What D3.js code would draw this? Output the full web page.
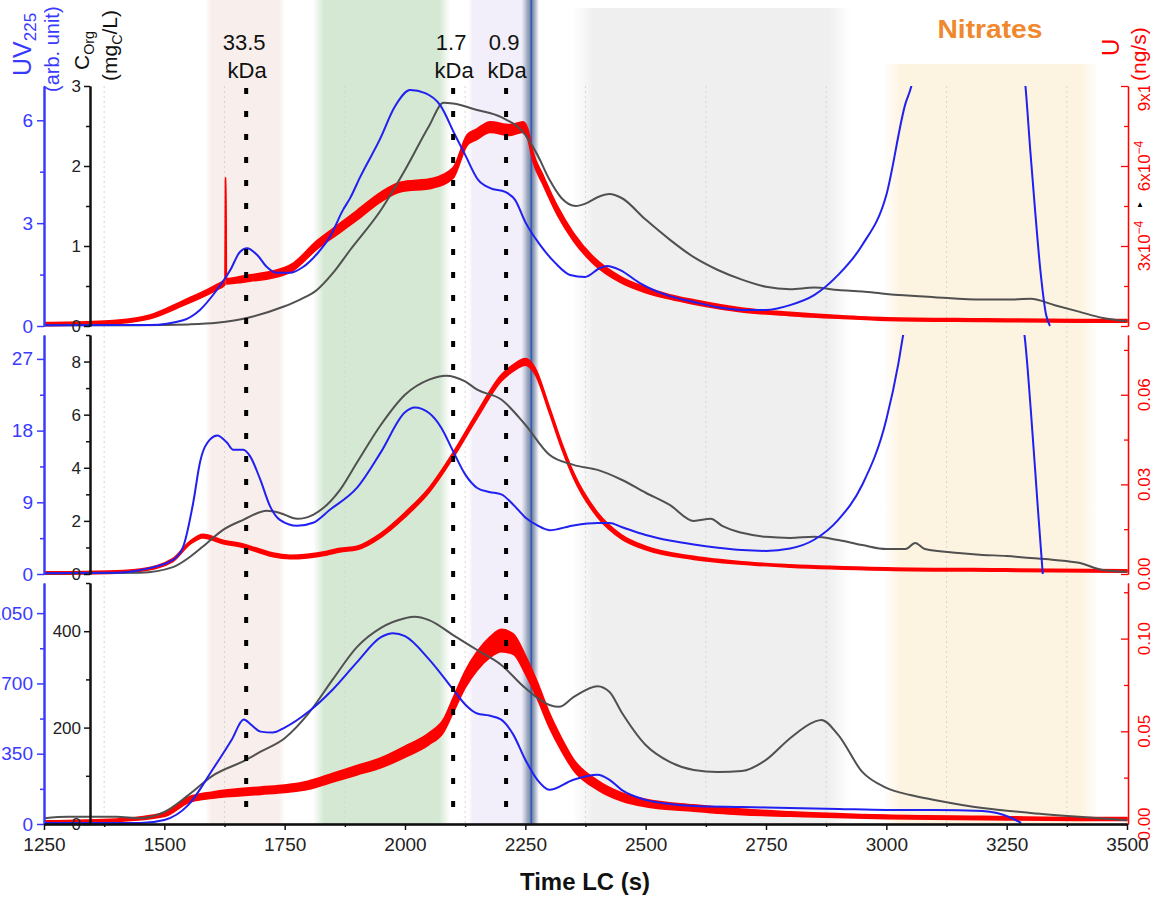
<!DOCTYPE html>
<html>
<head>
<meta charset="utf-8">
<script src="https://cdn.jsdelivr.net/npm/d3@7"></script>
<style>
  body { margin: 0; background: #fff; }
  svg { display: block; font-family: "Liberation Sans", Arial, sans-serif; }
</style>
</head>
<body>
<svg width="1153" height="897"></svg>
<script>
// time axis (s)
const timeTicks = [1250, 1500, 1750, 2000, 2250, 2500, 2750, 3000, 3250, 3500];

// shaded fractions [start, end] (s)
const bandRanges = [[1585, 1751], [1809, 2094], [2131, 2250], [2347, 2925], [2994, 3440]];
const kdaTimes = [1670, 2100, 2210];
const kdaLabels = ['33.5', '1.7', '0.9'];
const markerTime = 2260;

// ---- top panel ----  [t, value]  /  U: [t, value(x1e-4), noise]
const topUV = [[1250,0.02],[1470,0.03],[1539,0.17],[1574,0.47],[1609,1.05],[1637,1.63],[1657,2.16],[1672,2.27],[1693,2.07],[1713,1.72],[1734,1.55],[1761,1.55],[1788,1.72],[1817,2.1],[1844,2.6],[1871,3.38],[1886,3.73],[1907,4.35],[1948,5.45],[1979,6.4],[2011,6.88],[2042,6.79],[2073,6.44],[2104,5.57],[2125,4.99],[2152,4.26],[2177,4.02],[2208,3.91],[2229,3.67],[2250,3.03],[2281,2.36],[2312,1.84],[2343,1.49],[2374,1.43],[2405,1.69],[2420,1.75],[2447,1.63],[2488,1.25],[2550,0.87],[2600,0.7],[2650,0.55],[2700,0.47],[2750,0.47],[2800,0.61],[2850,0.9],[2900,1.49],[2950,2.36],[3000,3.82],[3040,6.5],[3052,7.0],[3070,8.5],[3275,8.5],[3289,7.0],[3299,5.13],[3309,3.38],[3320,1.63],[3332,0.32],[3340,0]];
const topCorg = [[1250,0.01],[1450,0.01],[1550,0.02],[1609,0.04],[1678,0.11],[1747,0.24],[1782,0.33],[1817,0.45],[1850,0.66],[1886,0.95],[1950,1.45],[2000,1.95],[2050,2.5],[2080,2.79],[2100,2.78],[2150,2.7],[2200,2.61],[2250,2.39],[2275,2.14],[2300,1.83],[2325,1.6],[2355,1.5],[2375,1.53],[2400,1.61],[2425,1.65],[2450,1.6],[2500,1.33],[2550,1.08],[2600,0.86],[2650,0.7],[2700,0.58],[2750,0.49],[2800,0.46],[2850,0.48],[2900,0.45],[2950,0.43],[3000,0.4],[3100,0.36],[3200,0.33],[3250,0.33],[3300,0.34],[3350,0.26],[3400,0.18],[3450,0.1],[3500,0.06]];
const topU = [[1250,0.07,0.06],[1350,0.11,0.06],[1400,0.15,0.06],[1470,0.34,0.07],[1539,0.86,0.09],[1609,1.46,0.1],[1626,1.65,0.1],[1627,5.5,0.02],[1628,5.55,0.02],[1629,1.68,0.1],[1650,1.72,0.11],[1678,1.8,0.12],[1720,1.91,0.13],[1767,2.21,0.14],[1817,3.04,0.16],[1859,3.6,0.17],[1900,4.15,0.18],[1950,4.84,0.18],[1990,5.21,0.18],[2058,5.36,0.18],[2100,5.74,0.2],[2129,6.97,0.2],[2150,7.2,0.2],[2177,7.46,0.2],[2218,7.35,0.2],[2245,7.46,0.2],[2255,7.2,0.2],[2266,6.34,0.18],[2287,5.47,0.18],[2316,4.35,0.17],[2350,3.34,0.15],[2391,2.47,0.13],[2450,1.72,0.11],[2500,1.35,0.1],[2550,1.09,0.08],[2600,0.9,0.08],[2700,0.6,0.07],[2800,0.45,0.06],[2900,0.34,0.05],[3000,0.26,0.05],[3200,0.22,0.05],[3400,0.19,0.05],[3500,0.19,0.05]];

// ---- middle panel ----
const midUV = [[1250,0.1],[1400,0.15],[1450,0.5],[1518,1.77],[1539,3.4],[1560,8.95],[1574,14],[1595,16.9],[1610,17.4],[1630,16.5],[1643,15.6],[1664,15.6],[1678,14.8],[1699,11.9],[1720,8.45],[1740,6.8],[1776,6.05],[1809,6.43],[1844,8.07],[1900,10.8],[1950,15.3],[2000,20.3],[2020,20.9],[2050,20.2],[2075,18.4],[2100,15.4],[2125,12.5],[2150,10.8],[2175,10.3],[2200,10],[2225,8.7],[2250,7.1],[2275,6.1],[2300,5.5],[2350,6.1],[2400,6.4],[2425,6.4],[2450,5.9],[2500,4.9],[2550,4.2],[2600,3.7],[2650,3.3],[2700,3.0],[2750,2.9],[2800,3.2],[2850,4.3],[2900,6.8],[2950,11.2],[3000,19.4],[3025,26.4],[3035,30],[3050,34],[3270,34],[3287,30],[3300,20.7],[3315,8.1],[3325,0]];
const midCorg = [[1250,0.02],[1450,0.05],[1518,0.26],[1553,0.64],[1589,1.17],[1622,1.66],[1664,2.04],[1713,2.38],[1740,2.3],[1776,2.08],[1809,2.23],[1865,3.17],[1900,4.19],[1950,5.62],[2000,6.75],[2050,7.32],[2085,7.47],[2125,7.25],[2150,6.94],[2200,6.57],[2250,5.62],[2300,4.49],[2350,4.11],[2400,3.92],[2450,3.55],[2500,3.06],[2550,2.6],[2600,2.0],[2635,2.08],[2660,1.8],[2700,1.55],[2750,1.4],[2800,1.36],[2850,1.4],[2900,1.28],[2950,1.09],[3000,0.94],[3040,0.94],[3060,1.17],[3080,0.94],[3150,0.79],[3200,0.72],[3250,0.68],[3300,0.6],[3350,0.53],[3400,0.42],[3450,0.15],[3500,0.08]];
const midU = [[1250,0.0003,0.0004],[1400,0.0007,0.0004],[1450,0.0013,0.0004],[1518,0.0047,0.0005],[1553,0.0104,0.0005],[1580,0.0127,0.0006],[1622,0.0107,0.0006],[1657,0.0097,0.0006],[1693,0.008,0.0006],[1726,0.0064,0.0006],[1761,0.0057,0.0006],[1797,0.006,0.0006],[1838,0.007,0.0006],[1865,0.008,0.0006],[1900,0.0087,0.0006],[1950,0.013,0.0007],[2000,0.0198,0.0008],[2050,0.0281,0.0008],[2100,0.0398,0.0009],[2150,0.0532,0.001],[2200,0.0656,0.0011],[2225,0.069,0.0011],[2250,0.071,0.0011],[2270,0.068,0.0011],[2300,0.0549,0.001],[2325,0.0432,0.001],[2350,0.0331,0.0009],[2400,0.0198,0.0008],[2450,0.0124,0.0007],[2500,0.0087,0.0006],[2600,0.0054,0.0005],[2700,0.0037,0.0004],[2800,0.0027,0.0004],[3000,0.0017,0.0004],[3250,0.0013,0.0004],[3500,0.001,0.0004]];

// ---- bottom panel ----
const botUV = [[1250,5],[1450,5],[1500,20],[1550,95],[1600,270],[1640,420],[1665,520],[1680,495],[1700,460],[1725,455],[1750,480],[1800,560],[1850,670],[1900,805],[1950,930],[1975,950],[2000,935],[2050,820],[2100,670],[2125,595],[2150,550],[2175,540],[2200,520],[2225,445],[2250,320],[2275,220],[2300,170],[2350,220],[2400,245],[2425,220],[2450,170],[2500,120],[2550,100],[2600,90],[2700,85],[2800,80],[2900,75],[3000,70],[3100,70],[3200,65],[3230,55],[3260,30],[3280,5]];
const botCorg = [[1250,12],[1300,15],[1400,15],[1450,12],[1500,25],[1550,60],[1600,100],[1670,133],[1700,150],[1750,178],[1800,230],[1850,300],[1900,367],[1950,407],[2000,427],[2020,430],[2050,423],[2100,392],[2150,361],[2200,330],[2250,282],[2300,247],[2320,243],[2350,263],[2400,286],[2425,274],[2450,232],[2500,164],[2550,129],[2600,112],[2650,108],[2700,110],[2750,133],[2800,178],[2850,212],[2865,216],[2900,185],[2950,108],[3000,75],[3050,60],[3100,50],[3200,33],[3300,23],[3400,15],[3500,8]];
const botU = [[1250,0.001,0.0007],[1400,0.002,0.0007],[1500,0.005,0.001],[1550,0.013,0.0015],[1600,0.0156,0.0017],[1700,0.018,0.002],[1750,0.019,0.002],[1800,0.021,0.0022],[1850,0.025,0.0024],[1900,0.029,0.0025],[1950,0.033,0.0027],[2000,0.039,0.003],[2050,0.046,0.0032],[2080,0.053,0.0035],[2100,0.064,0.004],[2125,0.078,0.0045],[2150,0.088,0.005],[2175,0.095,0.0055],[2200,0.099,0.006],[2225,0.097,0.0055],[2250,0.086,0.005],[2275,0.072,0.0045],[2300,0.056,0.004],[2325,0.043,0.0035],[2350,0.032,0.003],[2400,0.021,0.0025],[2450,0.0146,0.0022],[2500,0.0113,0.002],[2600,0.0086,0.0017],[2700,0.0065,0.0015],[2800,0.0054,0.0012],[3000,0.0038,0.001],[3200,0.0032,0.0009],[3400,0.0027,0.0008],[3500,0.0027,0.0008]];

// axis ticks / ranges
const uvTicks = [[0, 3, 6], [0, 9, 18, 27], [0, 350, 700, 1050]];
const corgTicks = [[0, 1, 2, 3], [0, 2, 4, 6, 8], [0, 200, 400]];
const uTicks = [[0, 3, 6, 9], [0, 0.03, 0.06], [0, 0.05, 0.10]];
const uvMax = [7, 30, 1200];
const corgMax = [3, 9, 500];
const uMax = [9, 0.08, 0.13];

const BLUE = '#2020f0', BLUE_AX = '#3a3aff', GREY = '#505050', RED = '#ff0000';

const svg = d3.select('svg');
const defs = svg.append('defs');
const x = d3.scaleLinear().domain([1250, 3500]).range([44, 1127]);
const plotBottom = 824;

// background bands
const bandColors = ['#f8eeeb', '#d4e8d3', '#f3effa', '#efefef', '#fdf3e1'];
const bandTop = [0, 0, 0, 8, 64];
bandRanges.forEach((r, i) => {
    const gr = defs.append('linearGradient').attr('id', 'band' + i);
    [[0, 0], [0.08, 1], [0.92, 1], [1, 0]].forEach(s => {
        gr.append('stop').attr('offset', s[0]).attr('stop-color', bandColors[i]).attr('stop-opacity', s[1]);
    });
    svg.append('rect')
        .attr('x', x(r[0])).attr('width', x(r[1]) - x(r[0]))
        .attr('y', bandTop[i]).attr('height', plotBottom - bandTop[i])
        .attr('fill', `url(#band${i})`);
});

// faint grid on minor ticks
svg.append('g').selectAll('line')
    .data(d3.range(1375, 3500, 250))
    .join('line')
    .attr('x1', d => x(d)).attr('x2', d => x(d))
    .attr('y1', 86).attr('y2', plotBottom)
    .attr('stroke', '#d6d6d6').attr('stroke-width', 1).attr('stroke-dasharray', '2,3');

// nitrate marker (blurred vertical line)
const mg = defs.append('linearGradient').attr('id', 'marker');
[[0, 0], [0.35, 0.55], [0.6, 0.8], [1, 0]].forEach(s => {
    mg.append('stop').attr('offset', s[0]).attr('stop-color', '#4a5f8c').attr('stop-opacity', s[1]);
});
svg.append('rect').attr('x', x(markerTime) - 9).attr('width', 18)
    .attr('y', 0).attr('height', plotBottom).attr('fill', 'url(#marker)');
svg.append('line').attr('x1', x(markerTime) + 1).attr('x2', x(markerTime) + 1)
    .attr('y1', 0).attr('y2', plotBottom).attr('stroke', '#1f55b8').attr('stroke-width', 1.2);

const boxes = [[86, 326], [335, 574], [583, 824]];
const series = [[topUV, topCorg, topU], [midUV, midCorg, midU], [botUV, botCorg, botU]];
const plain = d => String(d);

boxes.forEach((b, i) => {
    const yUV = d3.scaleLinear().domain([0, uvMax[i]]).range([b[1], b[0]]);
    const yC = d3.scaleLinear().domain([0, corgMax[i]]).range([b[1], b[0]]);
    const yU = d3.scaleLinear().domain([0, uMax[i]]).range([b[1], b[0]]);
    const [uv, corg, u] = series[i];

    defs.append('clipPath').attr('id', 'clip' + i)
        .append('rect').attr('x', 44).attr('y', b[0]).attr('width', 1084).attr('height', b[1] - b[0] + 3);
    const g = svg.append('g').attr('clip-path', `url(#clip${i})`);

    g.append('path').datum(u)
        .attr('d', d3.area().x(d => x(d[0])).y0(d => yU(d[1] - d[2])).y1(d => yU(d[1] + d[2])).curve(d3.curveMonotoneX))
        .attr('fill', RED).attr('stroke', RED).attr('stroke-width', 1.6).attr('stroke-linejoin', 'round');
    g.append('path').datum(corg)
        .attr('d', d3.line().x(d => x(d[0])).y(d => yC(d[1])).curve(d3.curveMonotoneX))
        .attr('fill', 'none').attr('stroke', GREY).attr('stroke-width', 2);
    g.append('path').datum(uv)
        .attr('d', d3.line().x(d => x(d[0])).y(d => yUV(d[1])).curve(d3.curveMonotoneX))
        .attr('fill', 'none').attr('stroke', BLUE).attr('stroke-width', 2);

    // UV axis (blue)
    const step = uvTicks[i][1] / 2;
    const aUV = svg.append('g').attr('transform', 'translate(44,0)');
    aUV.call(d3.axisLeft(yUV).tickValues(d3.range(step, uvMax[i], step * 2)).tickSize(4).tickSizeOuter(0).tickFormat(''));
    aUV.call(g2 => g2.append('g').call(d3.axisLeft(yUV).tickValues(uvTicks[i]).tickSize(7).tickSizeOuter(0).tickPadding(4).tickFormat(plain)));
    aUV.selectAll('path,line').attr('stroke', BLUE_AX).attr('stroke-width', 1.5);
    aUV.selectAll('path').attr('stroke-width', 2);
    aUV.selectAll('text').attr('fill', BLUE_AX).style('font-size', '19px').attr('font-family', null);

    // Corg axis (black)
    const cStep = corgTicks[i][1] / 2;
    const aC = svg.append('g').attr('transform', 'translate(90,0)');
    aC.call(d3.axisLeft(yC).tickValues(d3.range(cStep, corgMax[i] + 1e-9, cStep * 2)).tickSize(4).tickSizeOuter(0).tickFormat(''));
    aC.call(g2 => g2.append('g').call(d3.axisLeft(yC).tickValues(corgTicks[i]).tickSize(6).tickSizeOuter(0).tickPadding(3).tickFormat(plain)));
    aC.selectAll('path,line').attr('stroke', '#111').attr('stroke-width', 1.5);
    aC.selectAll('path').attr('stroke-width', 2);
    aC.selectAll('text').attr('fill', '#222').style('font-size', '17px').attr('font-family', null);

    // U axis (red), ticks pointing inward, rotated labels
    const uStep = uTicks[i][1] / 2;
    const aU = svg.append('g').attr('transform', 'translate(1128,0)');
    aU.call(d3.axisRight(yU).tickValues(d3.range(uStep, uMax[i], uStep * 2)).tickSize(-4).tickSizeOuter(0).tickFormat(''));
    aU.call(g2 => g2.append('g').call(d3.axisRight(yU).tickValues(uTicks[i]).tickSize(-7).tickSizeOuter(0).tickFormat('')));
    aU.selectAll('path,line').attr('stroke', RED).attr('stroke-width', 1.3);

    const lab = svg.append('g').attr('fill', RED).style('font-size', '17px');
    if (i === 0) lab.attr('clip-path', 'url(#uclip)');
    uTicks[i].forEach(v => {
        const t = lab.append('text')
            .attr('transform', `translate(1150,${yU(v)}) rotate(-90)`)
            .attr('text-anchor', 'middle');
        if (i === 0) {
            if (v === 0) t.text('0');
            else { t.text(v + 'x10'); t.append('tspan').attr('dy', -7).style('font-size', '12px').text('\u22124'); }
        } else {
            t.text(d3.format('.2f')(v));
        }
    });
});
defs.append('clipPath').attr('id', 'uclip').append('rect').attr('x', 1128).attr('y', 86).attr('width', 30).attr('height', 260);

// x axis
const ax = svg.append('g').attr('transform', `translate(0,${plotBottom})`);
ax.call(d3.axisBottom(x).tickValues(d3.range(1375, 3500, 250)).tickSize(3).tickSizeOuter(0).tickFormat(''));
ax.call(g2 => g2.append('g').call(d3.axisBottom(x).tickValues(timeTicks).tickSize(6).tickSizeOuter(0).tickPadding(8).tickFormat(plain)));
ax.selectAll('path,line').attr('stroke', '#111').attr('stroke-width', 1.5);
ax.select('path').attr('stroke-width', 2.5);
ax.selectAll('text').attr('fill', '#222').style('font-size', '19px')
    .attr('font-family', '"Liberation Sans Narrow", "Liberation Sans", Arial, sans-serif');

svg.append('text').attr('x', 585).attr('y', 890).attr('text-anchor', 'middle')
    .style('font-size', '24px').style('font-weight', 'bold').attr('fill', '#111')
    .attr('textLength', 130).attr('lengthAdjust', 'spacingAndGlyphs')
    .text('Time LC (s)');

// kDa dotted markers
svg.append('g').selectAll('line').data(kdaTimes).join('line')
    .attr('x1', d => x(d)).attr('x2', d => x(d))
    .attr('y1', 88).attr('y2', plotBottom)
    .attr('stroke', '#000').attr('stroke-width', 4).attr('stroke-dasharray', '6,17');
const kg = svg.append('g').attr('fill', '#111').style('font-size', '22px').attr('text-anchor', 'middle');
kdaTimes.forEach((t, i) => {
    kg.append('text').attr('x', x(t) - 2).attr('y', 50).text(kdaLabels[i]);
    kg.append('text').attr('x', x(t) + 1).attr('y', 78).text('kDa');
});

svg.append('text').attr('x', 990).attr('y', 38).attr('text-anchor', 'middle')
    .attr('fill', '#f0882e').style('font-size', '26px').style('font-weight', 'bold')
    .attr('textLength', 105).attr('lengthAdjust', 'spacingAndGlyphs')
    .text('Nitrates');

// axis titles (rotated)
function vtitle(xp, yp, color, size, parts) {
    const t = svg.append('text').attr('transform', `translate(${xp},${yp}) rotate(-90)`)
        .attr('fill', color).style('font-size', size + 'px');
    parts.forEach(p => {
        const s = t.append('tspan').text(p[0]);
        if (p[1] === 'sub') s.attr('dy', 5).style('font-size', (size * 0.68) + 'px');
        if (p[1] === 'back') s.attr('dy', -5);
    });
}
vtitle(31, 76, BLUE_AX, 25, [['UV'], ['225', 'sub']]);
vtitle(59, 92, BLUE_AX, 20, [['(arb. unit)']]);
vtitle(89, 70, '#111', 21, [['C'], ['Org', 'sub']]);
vtitle(117, 81, '#111', 21, [['(mg'], ['C', 'sub'], ['/L)', 'back']]);
vtitle(1119, 56, RED, 24, [['U']]);
vtitle(1146, 81, RED, 21, [['(ng/s)']]);
svg.append('text').attr('x', 1136).attr('y', 207).style('font-size', '8px').attr('fill', '#000').text('\u25B2');
</script>
</body>
</html>
